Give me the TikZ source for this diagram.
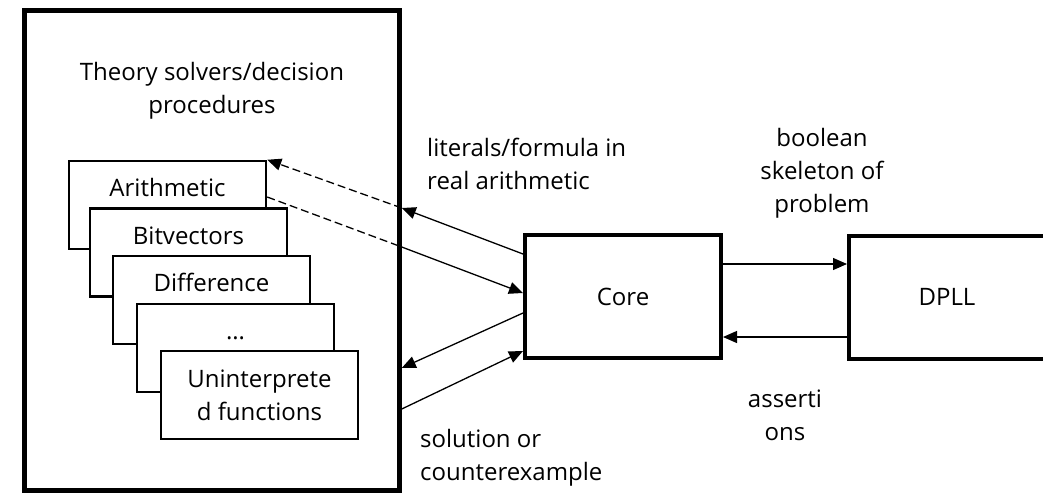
\documentclass[tikz,border=0pt]{standalone}
\usepackage{fontspec}
\setmainfont{Open Sans}
\usetikzlibrary{arrows.meta,calc}
\begin{document}
\begin{tikzpicture}[x=1pt,y=-1pt,
  font=\fontsize{24}{33}\selectfont,
  bigbox/.style={draw, line width=4.5pt, inner sep=0pt},
  mainbox/.style={draw, line width=4pt, inner sep=0pt, minimum width=196pt, minimum height=123pt},
  solver/.style={draw, line width=2.5pt, fill=white, inner sep=0pt, minimum width=197pt, minimum height=88pt},
  lbl/.style={inner sep=0pt, align=center},
  conn/.style={line width=1.3pt, -{Triangle[length=14pt,width=12pt]}},
  plainline/.style={line width=1.3pt},
  dashed line/.style={dash pattern=on 8pt off 4pt},
]
\useasboundingbox (0,0) rectangle (1043,493);

% theory solver container
\node[bigbox, minimum width=375pt, minimum height=480pt] (theory) at (212,250.5) {};
\node[lbl] (theorylbl) at (212,90.5) {Theory solvers/decision\\procedures};

% stacked solver boxes
\node[solver] (arith) at (167.5,205) {};
\node[lbl, anchor=base] (arithlbl) at ([yshift=-37pt]arith.north) {Arithmetic};
\node[solver] (bitv) at (188.5,252.5) {};
\node[lbl, anchor=base] (bitvlbl) at ([yshift=-37pt]bitv.north) {Bitvectors};
\node[solver] (diff) at (211.5,300) {};
\node[lbl, anchor=base] (difflbl) at ([yshift=-37pt]diff.north) {Difference};
\node[solver] (dots) at (235.5,348) {};
\node[lbl, anchor=base] (dotslbl) at ([yshift=-37pt]dots.north) {\ldots};
\node[solver, align=center] (unint) at (259.5,395) {Uninterprete\\d functions};

% core and DPLL
\node[mainbox] (core) at (623,296.5) {Core};
\node[mainbox] (dpll) at (947,297) {DPLL};

% helper y-levels
\path (0,197) coordinate (yk) (0,208) coordinate (ya) (0,247) coordinate (yb)
      (0,254) coordinate (yc) (0,293) coordinate (yd) (0,313) coordinate (ye)
      (0,368) coordinate (yf) (0,351) coordinate (yg) (0,409) coordinate (yh)
      (0,264) coordinate (yi) (0,337) coordinate (yj);

% connectors
\draw[conn] (core.west |- yc) -- (theory.east |- ya);
\draw[conn, dashed line] (theory.east |- ya) -- (arith.north east);
\draw[plainline, dashed line] (arith.east |- yk) -- (theory.east |- yb);
\draw[conn] (theory.east |- yb) -- (core.west |- yd);
\draw[conn] (core.west |- ye) -- (theory.east |- yf);
\draw[conn] (theory.east |- yh) -- (core.west |- yg);
\draw[conn] (core.east |- yi) -- (dpll.west |- yi);
\draw[conn] (dpll.west |- yj) -- (core.east |- yj);

% labels
\node[lbl, align=left, anchor=west] (lit) at (427,163.5) {literals/formula in\\real arithmetic};
\node[lbl] (bool) at (822,173.5) {boolean\\skeleton of\\problem};
\node[lbl] (assert) at (785,415) {asserti\\ons};
\node[lbl, align=left, anchor=west] (sol) at (420,457.5) {solution or\\counterexample};
\end{tikzpicture}
\end{document}
